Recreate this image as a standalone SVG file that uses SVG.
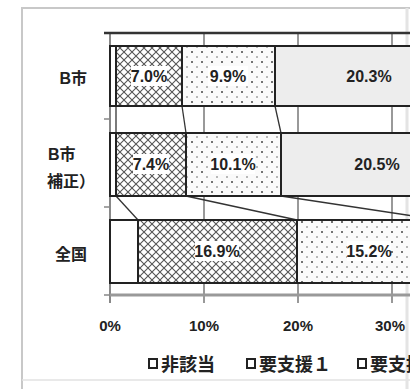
<svg xmlns="http://www.w3.org/2000/svg" width="410" height="389" viewBox="0 0 410 389">
<defs>
<pattern id="xh" width="8" height="8" patternUnits="userSpaceOnUse">
<rect width="8" height="8" fill="#fff"/>
<path d="M0,0 L8,8 M8,0 L0,8" stroke="#555" stroke-width="1.1"/>
</pattern>
<pattern id="dots" width="10" height="10" patternUnits="userSpaceOnUse">
<rect width="10" height="10" fill="#fafafa"/>
<circle cx="2" cy="2" r="1" fill="#444"/>
<rect x="6" y="6.5" width="2" height="1" fill="#777"/>
</pattern>
</defs>
<style>
.cat{font-family:"Liberation Sans","Noto Sans CJK JP",sans-serif;font-weight:bold;font-size:16px;fill:#222}
.val{font-family:"Liberation Sans",sans-serif;font-weight:bold;font-size:16px;fill:#222;text-anchor:middle}
.ax{font-family:"Liberation Sans",sans-serif;font-weight:bold;font-size:15px;fill:#222;text-anchor:middle}
.leg{font-family:"Liberation Sans","Noto Sans CJK JP",sans-serif;font-weight:bold;font-size:18px;fill:#222}
.seg{stroke:#222;stroke-width:2}
.grid{stroke:#999;stroke-width:2}
.sl{stroke:#333;stroke-width:1.3;fill:none}
.halo{fill:#fff}
.key{fill:#fff;stroke:#222;stroke-width:2}
</style>
<rect width="410" height="389" fill="#fff"/>
<g id="frame" fill="none">
<path d="M22,389 V8 H410" stroke="#c8c8c8" stroke-width="2"/>
<path d="M22,380 H410" stroke="#e2e2e2" stroke-width="1.5"/>
<path d="M407,8 V389" stroke="#e4e4e4" stroke-width="3"/>
</g>
<g id="axes">
<line class="grid" x1="204" y1="33" x2="204" y2="303"/>
<line class="grid" x1="298" y1="33" x2="298" y2="303"/>
<line class="grid" x1="392" y1="33" x2="392" y2="303"/>
<line x1="110" y1="33" x2="110" y2="303" stroke="#888" stroke-width="2"/>
<line x1="104" y1="33" x2="410" y2="33" stroke="#333" stroke-width="2.5"/>
<line x1="110" y1="295" x2="410" y2="295" stroke="#999" stroke-width="3"/>
<path d="M104,119 H110 M104,207 H110 M104,295 H110" stroke="#888" stroke-width="1.5"/>
<text class="ax" x="110" y="331">0%</text>
<text class="ax" x="204" y="331">10%</text>
<text class="ax" x="298" y="331">20%</text>
<text class="ax" x="390" y="331">30%</text>
</g>
<g id="connectors">
<line class="sl" x1="116" y1="106" x2="116" y2="133"/>
<line class="sl" x1="182" y1="106" x2="186" y2="133"/>
<line class="sl" x1="275" y1="106" x2="281" y2="133"/>
<line class="sl" x1="116" y1="196" x2="138" y2="220"/>
<line class="sl" x1="186" y1="196" x2="297" y2="220"/>
<line class="sl" x1="281" y1="196" x2="440" y2="220"/>
</g>
<g id="bar-b">
<rect class="seg" x="110" y="46" width="6" height="60" fill="#fff"/>
<rect class="seg" x="116" y="46" width="66" height="60" fill="url(#xh)"/>
<rect class="seg" x="182" y="46" width="93" height="60" fill="url(#dots)"/>
<rect class="seg" x="275" y="46" width="191" height="60" fill="#ededed"/>
<rect class="halo" x="131" y="66" width="36" height="20"/>
<rect class="halo" x="208" y="66" width="40" height="20"/>
<text class="val" x="149" y="82">7.0%</text>
<text class="val" x="228" y="82">9.9%</text>
<text class="val" x="369" y="82">20.3%</text>
<text class="cat" x="87" y="84" text-anchor="end">B市</text>
</g>
<g id="bar-b-adj">
<rect class="seg" x="110" y="133" width="6" height="63" fill="#fff"/>
<rect class="seg" x="116" y="133" width="70" height="63" fill="url(#xh)"/>
<rect class="seg" x="186" y="133" width="95" height="63" fill="url(#dots)"/>
<rect class="seg" x="281" y="133" width="193" height="63" fill="#ededed"/>
<rect class="halo" x="133" y="154" width="36" height="20"/>
<rect class="halo" x="211" y="154" width="44" height="20"/>
<text class="val" x="151" y="170">7.4%</text>
<text class="val" x="233" y="170">10.1%</text>
<text class="val" x="377" y="170">20.5%</text>
<text class="cat" x="48" y="160">B市</text>
<text class="cat" x="47" y="187">補正）</text>
</g>
<g id="bar-national">
<rect class="seg" x="110" y="220" width="28" height="63" fill="#fff"/>
<rect class="seg" x="138" y="220" width="159" height="63" fill="url(#xh)"/>
<rect class="seg" x="297" y="220" width="143" height="63" fill="url(#dots)"/>
<rect class="halo" x="195" y="241" width="44" height="20"/>
<rect class="halo" x="347" y="241" width="44" height="20"/>
<text class="val" x="217" y="257">16.9%</text>
<text class="val" x="369" y="257">15.2%</text>
<text class="cat" x="87" y="260" text-anchor="end">全国</text>
</g>
<g id="legend">
<rect class="key" x="149" y="359" width="8" height="9"/>
<text class="leg" x="161" y="371">非該当</text>
<rect class="key" x="247" y="359" width="8" height="9"/>
<text class="leg" x="259" y="371">要支援１</text>
<rect class="key" x="358" y="359" width="8" height="9"/>
<text class="leg" x="370" y="371">要支援２</text>
</g>
</svg>
